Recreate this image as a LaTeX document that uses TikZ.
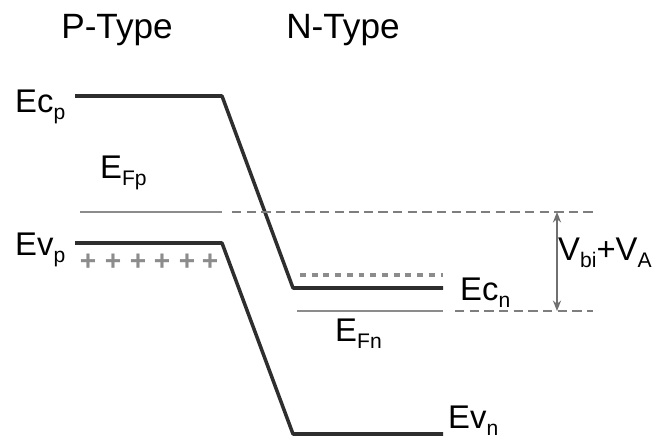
\documentclass[tikz,border=0pt]{standalone}
\usepackage{fontspec}
\setmainfont{Liberation Sans}
\usepackage{tikz}
\usetikzlibrary{positioning}
\usetikzlibrary{calc,arrows.meta}
\definecolor{banddark}{HTML}{2E2E2E}
\definecolor{fermigray}{HTML}{8C8C8C}
\newcommand{\lsub}[2]{#1\raisebox{-0.45ex}{\fontsize{18}{20}\selectfont #2}}
\tikzset{
	x=0.03cm, y=-0.03cm,
	lbl/.style = {font=\fontsize{28}{30}\selectfont, inner sep=0pt, anchor=base west},
	heading/.style = {font=\fontsize{30}{32}\selectfont, inner sep=0pt},
	band/.style = {draw=banddark, line width=3pt, line join=round},
	fermi/.style = {draw=fermigray, line width=1.6pt},
	fermidash/.style = {draw=fermigray!90!black, line width=1.6pt, dash pattern=on 8pt off 4.5pt},
	donor/.style = {draw=fermigray, line width=3pt, dash pattern=on 5pt off 5pt},
	hole/.style = {text=fermigray, font=\fontsize{24}{26}\selectfont\bfseries, inner sep=0pt},
}
\begin{document}
\begin{tikzpicture}
	\useasboundingbox (0,0) rectangle (660,445);
	% headings
	\node (ptype) at (117,30) [heading] {P-Type};
	\node (ntype) at (343,30) [heading] {N-Type};
	% conduction band
	\coordinate (EcpL) at (75,96);
	\coordinate (EcpR) at (222,96);
	\coordinate (EcnL) at (293,288);
	\coordinate (EcnR) at (443,288);
	\draw[band] (EcpL) -- (EcpR) -- (EcnL) -- (EcnR);
	% valence band
	\coordinate (EvpL) at (75,243);
	\coordinate (EvpR) at (222,243);
	\coordinate (EvnL) at (293,434);
	\coordinate (EvnR) at (443,434);
	\draw[band] (EvpL) -- (EvpR) -- (EvnL) -- (EvnR);
	% fermi levels
	\coordinate (EFpL) at (80,212);
	\coordinate (EFpM) at (222,212);
	\coordinate (EFpD) at (232,212);
	\coordinate (EFpR) at (593,212);
	\draw[fermi] (EFpL) -- (EFpM);
	\draw[fermidash] (EFpD) -- (EFpR);
	\coordinate (EFnL) at (297,311);
	\coordinate (EFnM) at (443,311);
	\coordinate (EFnD) at (455,311);
	\coordinate (EFnR) at (593,311);
	\draw[fermi] (EFnL) -- (EFnM);
	\draw[fermidash] (EFnD) -- (EFnR);
	% donor level
	\coordinate (EdL) at (300,275);
	\coordinate (EdR) at (443,275);
	\draw[donor] (EdL) -- (EdR);
	% holes
	\foreach \i/\x in {1/88,2/113,3/138,4/162,5/187,6/210}
		\node (plus\i) at (\x,262) [hole] {+};
	% applied voltage
	\coordinate (Vtop) at (557,212);
	\coordinate (Vbot) at (557,311);
	\draw[draw=fermigray!80!black, line width=1pt, {Stealth[length=9pt,width=7pt]}-{Stealth[length=9pt,width=7pt]}] (Vtop) -- (Vbot);
	% labels
	\node (Ecp) at (15,112) [lbl] {\lsub{Ec}{p}};
	\node (EFp) at (100,178) [lbl] {\lsub{E}{Fp}};
	\node (Evp) at (15,255) [lbl] {\lsub{Ev}{p}};
	\node (Ecn) at (460,300) [lbl] {\lsub{Ec}{n}};
	\node (EFn) at (335,341) [lbl] {\lsub{E}{Fn}};
	\node (Evn) at (448,428) [lbl] {\lsub{Ev}{n}};
	\node (Vbi) at (558,260) [lbl] {\lsub{V}{bi}+\lsub{V}{A}};
\end{tikzpicture}
\end{document}
